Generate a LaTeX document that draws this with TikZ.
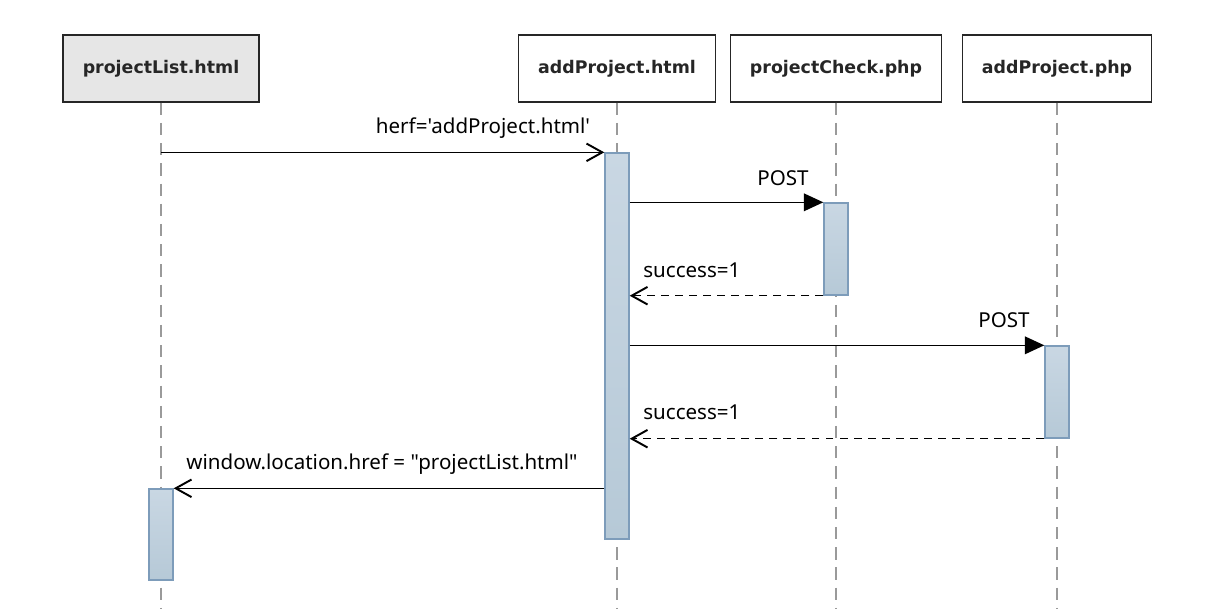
\documentclass[tikz,border=0pt]{standalone}
\usepackage{fontspec}
\usetikzlibrary{arrows.meta}
\newfontfamily\headfont{DejaVu Sans}
\newfontfamily\msgfont{Noto Sans}
\definecolor{headgray}{HTML}{E6E6E6}
\definecolor{bartop}{HTML}{C9D7E3}
\definecolor{barbot}{HTML}{B6C9D7}
\definecolor{barline}{HTML}{7D9CBA}
\definecolor{lifegray}{HTML}{9A9A9A}
\tikzset{
  head/.style={draw=black!85, line width=0.8pt, minimum height=1.34cm, font=\headfont\bfseries\fontsize{9.9}{12}\selectfont, text=black!85},
  life/.style={draw=lifegray, line width=0.8pt, dash pattern=on 7pt off 4.5pt},
  bar/.style={draw=barline, line width=0.8pt, top color=bartop, bottom color=barbot, minimum width=0.48cm, inner sep=0pt},
  call/.style={line width=0.8pt, -{Triangle[length=11pt,width=10pt]}},
  msg/.style={line width=0.8pt, -{Straight Barb[length=9pt,width=10pt,line width=1.1pt]}},
  reply/.style={line width=0.8pt, -{Straight Barb[length=9pt,width=10pt,line width=1.1pt]}, dash pattern=on 4.5pt off 3.5pt},
  lbl/.style={font=\msgfont\fontsize{11.7}{14}\selectfont, inner sep=0pt}
}
\begin{document}
\begin{tikzpicture}[x=0.02cm, y=-0.02cm]
\useasboundingbox (0,0) rectangle (1213,609);
% heads
\node[head, fill=headgray, minimum width=3.92cm] (pl) at (161,68.5) {projectList.html};
\node[head, minimum width=3.94cm] (ah) at (617,68.5) {addProject.html};
\node[head, minimum width=4.22cm] (pc) at (836,68.5) {projectCheck.php};
\node[head, minimum width=3.78cm] (ap) at (1057,68.5) {addProject.php};
% lifelines
\foreach \n in {pl,ah,pc,ap}{
  \coordinate (\n-end) at (\n |- 0,609);
  \draw[life] (\n.south) -- (\n-end);
}
% activations
\node[bar, minimum height=7.72cm] (b1) at (617,346) {};
\node[bar, minimum height=1.84cm] (b2) at (836,249) {};
\node[bar, minimum height=1.84cm] (b3) at (1057,392) {};
\node[bar, minimum height=1.82cm] (b4) at (161,534.5) {};
% messages
\draw[msg] (pl |- b1.north west) -- (b1.north west);
\node[lbl] (m1) at (483,128) {herf='addProject.html'};
\draw[call] (b1.east |- b2.north west) -- (b2.north west);
\node[lbl] (m2) at (783,178) {POST};
\draw[reply] (b2.south west) -- (b1.east |- b2.south west);
\node[lbl, anchor=west] (m3) at (643,270) {success=1};
\draw[call] (b1.east |- b3.north west) -- (b3.north west);
\node[lbl] (m4) at (1004,320) {POST};
\draw[reply] (b3.south west) -- (b1.east |- b3.south west);
\node[lbl, anchor=west] (m5) at (643,412) {success=1};
\draw[msg] (b1.west |- b4.north east) -- (b4.north east);
\node[lbl] (m6) at (382,464) {window.location.href = "projectList.html"};
\end{tikzpicture}
\end{document}
